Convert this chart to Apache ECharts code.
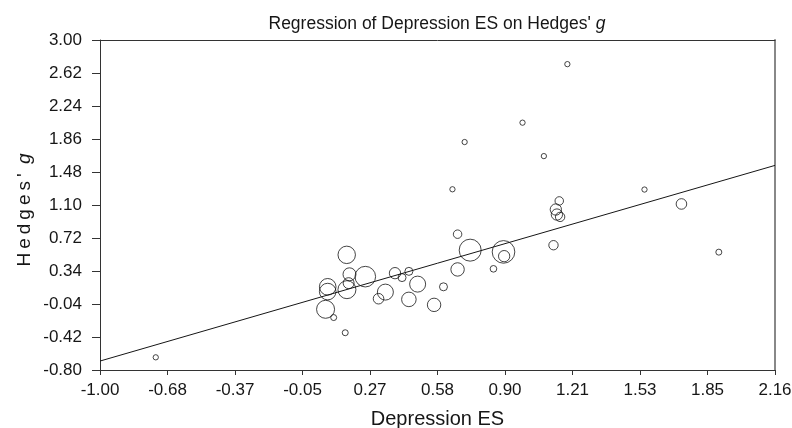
<!DOCTYPE html>
<html><head><meta charset="utf-8">
<script src="https://cdn.jsdelivr.net/npm/echarts@6/dist/echarts.min.js"></script>
<style>html,body{margin:0;padding:0;background:#fff}#c{width:792px;height:428px}</style>
</head><body><div id="c"></div>
<script>
// Depression ES (x), Hedges' g (y), study weight (bubble size)
const esX = [-0.739, 0.094, 0.148, 0.056, 0.066, 0.066, 0.155, 0.168, 0.164, 0.156,
             0.242, 0.304, 0.336, 0.381, 0.414, 0.446, 0.446, 0.487, 0.564, 0.608,
             0.674, 0.674, 0.733, 0.842, 0.889, 0.892, 0.707, 0.650, 0.978, 1.078,
             1.188, 1.123, 1.150, 1.134, 1.139, 1.154, 1.549, 1.722, 1.897];
const hedgesG = [-0.654, -0.196, -0.371, -0.101, 0.158, 0.103, 0.526, 0.302, 0.200, 0.125,
                 0.275, 0.021, 0.097, 0.315, 0.264, 0.336, 0.013, 0.189, -0.050, 0.158,
                 0.764, 0.358, 0.580, 0.365, 0.560, 0.511, 1.825, 1.281, 2.048, 1.663,
                 2.722, 0.637, 1.147, 1.048, 0.990, 0.963, 1.278, 1.112, 0.557];
const studyWeight = [7, 9, 9, 81, 69, 69, 76, 42, 30, 81,
                     106, 28, 64, 32, 16, 16, 53, 64, 45, 16,
                     18, 45, 121, 11, 128, 32, 7, 7, 7, 7,
                     7, 22, 18, 32, 32, 22, 7, 28, 9];
const xTickLabels = ['-1.00','-0.68','-0.37','-0.05','0.27','0.58','0.90','1.21','1.53','1.85','2.16'];
const yTickLabels = ['-0.80','-0.42','-0.04','0.34','0.72','1.10','1.48','1.86','2.24','2.62','3.00'];
const regIntercept = 0.016;
const regSlope = 0.713;

const xMin = -1.0, xMax = 2.16, xStep = 0.316;
const yMin = -0.8, yMax = 3.0, yStep = 0.38;

const FONT = '"Liberation Sans", Arial, Helvetica, sans-serif';
const INK = '#161616';

function spaced(name) {
  const chars = Array.from(name);
  return chars.map((ch, i) => {
    if (ch === ' ') return '{sp| }';
    if (i === chars.length - 1 && ch === 'g') return '{gi|g}';
    return '{ls|' + ch + '}';
  }).join('');
}

const chart = echarts.init(document.getElementById('c'), null, {renderer: 'canvas'});
chart.setOption({
  animation: false,
  backgroundColor: '#fff',
  textStyle: {fontFamily: FONT},
  grid: {left: 100, right: 17, top: 40, bottom: 58, containLabel: false, outerBoundsMode: 'none'},
  graphic: [{
    type: 'text', x: 437, y: 24,
    style: {
      text: "{n|Regression of Depression ES on Hedges' }{i|g}",
      align: 'center', verticalAlign: 'middle',
      rich: {
        n: {fontFamily: FONT, fontSize: 17.5, fill: INK, color: INK},
        i: {fontFamily: FONT, fontSize: 17.5, fontStyle: 'italic', fill: INK, color: INK}
      }
    }
  }, {
    type: 'text', x: 25, y: 210, rotation: Math.PI / 2,
    style: {
      text: spaced("Hedges' g"),
      align: 'center', verticalAlign: 'middle',
      rich: {
        ls: {fontFamily: FONT, fontSize: 19, fill: INK, color: INK, padding: [0, 2, 0, 2]},
        sp: {fontFamily: FONT, fontSize: 19, fill: INK, color: INK},
        gi: {fontFamily: FONT, fontSize: 19, fontStyle: 'italic', fill: INK, color: INK, padding: [0, 2, 0, 2]}
      }
    }
  }],
  xAxis: [{
    type: 'value', min: xMin, max: xMax, interval: xStep,
    position: 'bottom',
    axisLine: {show: true, onZero: false, lineStyle: {color: '#333', width: 1}},
    axisTick: {show: true, length: 5, lineStyle: {color: '#333'}},
    splitLine: {show: false},
    axisLabel: {
      fontSize: 17, color: INK, margin: 12, fontFamily: FONT,
      formatter: v => xTickLabels[Math.round((v - xMin) / xStep)] ?? v.toFixed(2)
    },
    name: 'Depression ES', nameLocation: 'middle', nameGap: 39,
    nameTextStyle: {fontSize: 20, color: INK, fontFamily: FONT}
  }, {
    type: 'value', min: xMin, max: xMax, position: 'top',
    axisLine: {show: true, onZero: false, lineStyle: {color: '#333', width: 1}},
    axisTick: {show: false}, axisLabel: {show: false}, splitLine: {show: false}
  }],
  yAxis: [{
    type: 'value', min: yMin, max: yMax, interval: yStep,
    position: 'left',
    axisLine: {show: true, onZero: false, lineStyle: {color: '#333', width: 1}},
    axisTick: {show: true, length: 8, lineStyle: {color: '#333'}},
    splitLine: {show: false},
    axisLabel: {
      fontSize: 17, color: INK, margin: 18, fontFamily: FONT,
      formatter: v => yTickLabels[Math.round((v - yMin) / yStep)] ?? v.toFixed(2)
    }
  }, {
    type: 'value', min: yMin, max: yMax, position: 'right',
    axisLine: {show: true, onZero: false, lineStyle: {color: '#888', width: 2}},
    axisTick: {show: false}, axisLabel: {show: false}, splitLine: {show: false}
  }],
  series: [{
    type: 'scatter',
    xAxisIndex: 0, yAxisIndex: 0,
    data: esX.map((x, i) => [x, hedgesG[i], studyWeight[i]]),
    symbol: 'circle',
    symbolSize: v => 2 * Math.sqrt(v[2]),
    itemStyle: {color: 'rgba(0,0,0,0)', borderColor: INK, borderWidth: 1},
    emphasis: {disabled: true},
    z: 3
  }, {
    type: 'line',
    xAxisIndex: 0, yAxisIndex: 0,
    data: [[xMin, regIntercept + regSlope * xMin], [xMax, regIntercept + regSlope * xMax]],
    symbol: 'none',
    lineStyle: {color: INK, width: 1},
    emphasis: {disabled: true},
    z: 2
  }]
});
</script>
</body></html>
